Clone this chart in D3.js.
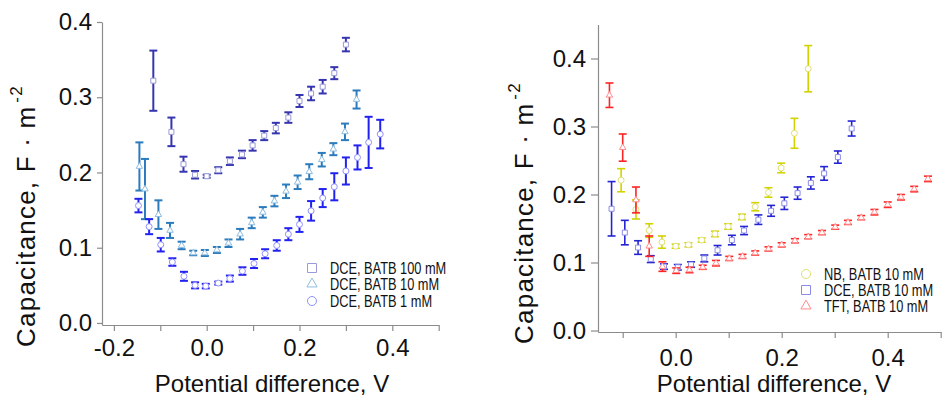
<!DOCTYPE html>
<html>
<head>
<meta charset="utf-8">
<script src="https://cdn.jsdelivr.net/npm/d3@7"></script>
<style>
  body { margin: 0; background: #fff; }
  text { font-family: Arial, "Liberation Sans", sans-serif; fill: #111; }
</style>
</head>
<body>
<script>
// Left panel: DCE with different BATB concentrations
var dce100X = [-0.115, -0.076, -0.050, -0.025, 0.000, 0.025, 0.050, 0.076, 0.099, 0.124, 0.149, 0.176, 0.200, 0.225, 0.250, 0.275, 0.300];
var dce100C = [0.322, 0.254, 0.211, 0.197, 0.195, 0.203, 0.215, 0.224, 0.236, 0.249, 0.259, 0.273, 0.295, 0.305, 0.314, 0.332, 0.370];
var dce100E = [0.040, 0.019, 0.010, 0.005, 0.002, 0.004, 0.005, 0.005, 0.007, 0.006, 0.007, 0.007, 0.008, 0.009, 0.009, 0.008, 0.009];

var dce10X = [-0.145, -0.133, -0.104, -0.079, -0.054, -0.029, -0.004, 0.022, 0.047, 0.072, 0.097, 0.121, 0.146, 0.171, 0.196, 0.221, 0.248, 0.273, 0.298, 0.323];
var dce10C = [0.208, 0.178, 0.144, 0.123, 0.103, 0.093, 0.093, 0.097, 0.106, 0.118, 0.133, 0.147, 0.162, 0.175, 0.187, 0.201, 0.217, 0.231, 0.254, 0.297];
var dce10E = [0.032, 0.040, 0.019, 0.010, 0.005, 0.003, 0.004, 0.004, 0.005, 0.007, 0.007, 0.007, 0.007, 0.009, 0.009, 0.010, 0.009, 0.008, 0.011, 0.012];

var dce1X = [-0.147, -0.124, -0.099, -0.074, -0.049, -0.025, -0.002, 0.025, 0.050, 0.077, 0.102, 0.126, 0.151, 0.176, 0.200, 0.225, 0.250, 0.275, 0.300, 0.325, 0.349, 0.374];
var dce1C = [0.156, 0.128, 0.104, 0.081, 0.062, 0.050, 0.049, 0.053, 0.059, 0.069, 0.079, 0.092, 0.103, 0.118, 0.131, 0.149, 0.166, 0.181, 0.202, 0.220, 0.240, 0.251];
var dce1E = [0.009, 0.010, 0.009, 0.005, 0.006, 0.004, 0.003, 0.002, 0.004, 0.005, 0.006, 0.006, 0.007, 0.008, 0.010, 0.013, 0.012, 0.018, 0.018, 0.016, 0.034, 0.019];

// Right panel: different solvents, BATB 10 mM
var nbX = [-0.103, -0.075, -0.050, -0.026, 0.000, 0.024, 0.049, 0.074, 0.099, 0.125, 0.150, 0.175, 0.199, 0.224, 0.250];
var nbC = [0.221, 0.178, 0.147, 0.130, 0.124, 0.126, 0.133, 0.142, 0.153, 0.167, 0.182, 0.203, 0.239, 0.290, 0.385];
var nbE = [0.017, 0.014, 0.010, 0.009, 0.003, 0.003, 0.003, 0.004, 0.004, 0.004, 0.006, 0.007, 0.007, 0.022, 0.034];

var dceX = [-0.121, -0.096, -0.071, -0.047, -0.022, 0.004, 0.029, 0.054, 0.079, 0.106, 0.129, 0.156, 0.180, 0.205, 0.230, 0.255, 0.280, 0.306, 0.332];
var dceC = [0.179, 0.144, 0.122, 0.105, 0.094, 0.093, 0.097, 0.106, 0.118, 0.133, 0.147, 0.163, 0.176, 0.187, 0.202, 0.217, 0.231, 0.255, 0.297];
var dceE = [0.040, 0.018, 0.010, 0.005, 0.004, 0.004, 0.004, 0.005, 0.007, 0.007, 0.006, 0.007, 0.008, 0.009, 0.009, 0.009, 0.010, 0.009, 0.011];

var tftX = [-0.125, -0.100, -0.075, -0.050, -0.025, 0.001, 0.026, 0.051, 0.076, 0.101, 0.126, 0.150, 0.175, 0.200, 0.225, 0.250, 0.276, 0.301, 0.325, 0.350, 0.375, 0.400, 0.425, 0.450, 0.476];
var tftC = [0.346, 0.269, 0.192, 0.124, 0.094, 0.088, 0.089, 0.093, 0.099, 0.106, 0.109, 0.114, 0.120, 0.126, 0.132, 0.138, 0.144, 0.152, 0.159, 0.166, 0.174, 0.185, 0.196, 0.208, 0.223];
var tftE = [0.018, 0.020, 0.019, 0.015, 0.007, 0.004, 0.004, 0.003, 0.004, 0.003, 0.003, 0.003, 0.003, 0.003, 0.003, 0.003, 0.003, 0.003, 0.003, 0.003, 0.004, 0.004, 0.004, 0.004, 0.004];

var yTicks = [0, 0.1, 0.2, 0.3, 0.4];
var leftXTicks = [-0.2, -0.1, 0, 0.1, 0.2, 0.3, 0.4, 0.5];
var leftXLabels = [-0.2, 0, 0.2, 0.4];
var rightXTicks = [-0.1, 0, 0.1, 0.2, 0.3, 0.4, 0.5];
var rightXLabels = [0, 0.2, 0.4];

var leftNames = ["DCE, BATB 100 mM", "DCE, BATB 10 mM", "DCE, BATB 1 mM"];
var rightNames = ["NB, BATB 10 mM", "DCE, BATB 10 mM", "TFT, BATB 10 mM"];

var width = 945, height = 397;

var svg = d3.select("body").append("svg")
    .attr("width", width)
    .attr("height", height);

function zip(xs, cs, es) {
    return xs.map(function(x, i) { return {x: x, c: cs[i], e: es[i]}; });
}

var leftSeries = [
    {name: leftNames[0], data: zip(dce100X, dce100C, dce100E), shape: d3.symbolSquare, bar: "#3535b0", mark: "#9a9ad8"},
    {name: leftNames[1], data: zip(dce10X, dce10C, dce10E), shape: d3.symbolTriangle, bar: "#2b7bbd", mark: "#8fbde0"},
    {name: leftNames[2], data: zip(dce1X, dce1C, dce1E), shape: d3.symbolCircle, bar: "#2222f0", mark: "#9090ff"}
];
var rightSeries = [
    {name: rightNames[0], data: zip(nbX, nbC, nbE), shape: d3.symbolCircle, bar: "#d2d200", mark: "#e0e070"},
    {name: rightNames[1], data: zip(dceX, dceC, dceE), shape: d3.symbolSquare, bar: "#2424d4", mark: "#8c8ce8"},
    {name: rightNames[2], data: zip(tftX, tftC, tftE), shape: d3.symbolTriangle, bar: "#ff2424", mark: "#ff8c8c"}
];

function symSize(shape, legend) {
    if (shape === d3.symbolSquare) return legend ? 81 : 25;
    if (shape === d3.symbolCircle) return legend ? 64 : 28;
    return legend ? 45 : 18;
}

var fmt = d3.format(".1f");
function label(d) { return fmt(d).replace("\u2212", "-"); }

function drawPanel(cfg) {
    var x = d3.scaleLinear().domain(cfg.xDomain).range(cfg.xRange);
    var y = d3.scaleLinear().domain(cfg.yDomain).range(cfg.yRange);
    var g = svg.append("g");

    var yAxis = d3.axisLeft(y)
        .tickValues(yTicks)
        .tickSize(cfg.yTickSize)
        .tickSizeOuter(0)
        .tickPadding(5)
        .tickFormat(label);
    var xAxis = d3.axisBottom(x)
        .tickValues(cfg.xTicks)
        .tickSize(6)
        .tickSizeOuter(0)
        .tickPadding(cfg.xPad)
        .tickFormat(function(d) {
            return cfg.xLabels.some(function(v) { return Math.abs(v - d) < 1e-9; }) ? label(d) : "";
        });

    var ya = g.append("g")
        .attr("transform", "translate(" + cfg.xRange[0] + ",0)")
        .call(yAxis);
    var xa = g.append("g")
        .attr("transform", "translate(0," + cfg.yRange[0] + ")")
        .call(xAxis);
    [ya, xa].forEach(function(a) {
        a.select(".domain").attr("stroke", "#8c8c8c").attr("stroke-width", 1.2);
        a.selectAll(".tick line").attr("stroke", "#8c8c8c").attr("stroke-width", 1.2);
        a.selectAll(".tick text")
            .attr("fill", "#111")
            .style("font-family", "Arial, 'Liberation Sans', sans-serif")
            .style("font-size", "24px");
    });

    // axis titles
    g.append("text")
        .attr("x", cfg.xTitleX)
        .attr("y", 392)
        .attr("text-anchor", "middle")
        .style("font-size", "24px")
        .text("Potential difference, V");

    var yt = g.append("text")
        .attr("transform", "translate(" + cfg.yTitleX + "," + cfg.yTitleY + ") rotate(-90)")
        .attr("text-anchor", "middle")
        .style("font-size", "26px")
        .style("letter-spacing", "1.2px");
    yt.append("tspan").text("Capacitance, F \u00b7 m");
    yt.append("tspan").attr("dx", 3).attr("dy", -13).style("font-size", "17px").text("-2");

    // error bars and markers
    cfg.series.forEach(function(s) {
        var sg = g.append("g");
        var pts = sg.selectAll(".pt")
            .data(s.data)
            .enter().append("g")
            .attr("class", "pt");
        pts.append("line")
            .attr("x1", function(d) { return x(d.x); })
            .attr("x2", function(d) { return x(d.x); })
            .attr("y1", function(d) { return y(d.c - d.e); })
            .attr("y2", function(d) { return y(d.c + d.e); })
            .attr("stroke", s.bar)
            .attr("stroke-width", cfg.barWidth);
        [-1, 1].forEach(function(sign) {
            pts.append("line")
                .attr("x1", function(d) { return x(d.x) - 4; })
                .attr("x2", function(d) { return x(d.x) + 4; })
                .attr("y1", function(d) { return y(d.c + sign * d.e); })
                .attr("y2", function(d) { return y(d.c + sign * d.e); })
                .attr("stroke", s.bar)
                .attr("stroke-width", cfg.barWidth);
        });
        pts.append("path")
            .attr("d", d3.symbol().type(s.shape).size(symSize(s.shape, false)))
            .attr("transform", function(d) { return "translate(" + x(d.x) + "," + y(d.c) + ")"; })
            .attr("fill", "#fff")
            .attr("stroke", s.mark)
            .attr("stroke-width", 1);
    });

    // legend
    var lg = g.append("g");
    cfg.series.forEach(function(s, i) {
        var ly = cfg.legendY[i];
        lg.append("path")
            .attr("d", d3.symbol().type(s.shape).size(symSize(s.shape, true)))
            .attr("transform", "translate(" + cfg.legendX + "," + ly + ")")
            .attr("fill", "none")
            .attr("stroke", s.mark)
            .attr("stroke-width", 1);
        lg.append("text")
            .attr("transform", "translate(" + (cfg.legendX + 18) + "," + ly + ") scale(0.8,1)")
            .attr("dy", "0.36em")
            .style("font-size", "16px")
            .text(s.name);
    });
}

drawPanel({
    xDomain: [-0.2256, 0.5], xRange: [102, 438.7],
    yDomain: [-0.0027, 0.4], yRange: [325, 22],
    xTicks: leftXTicks, xLabels: leftXLabels, xPad: 8, yTickSize: 5,
    xTitleX: 272, yTitleX: 35, yTitleY: 216,
    barWidth: 2, series: leftSeries,
    legendX: 312, legendY: [268, 284, 301]
});

drawPanel({
    xDomain: [-0.1466, 0.5], xRange: [598, 940.7],
    yDomain: [-0.0022, 0.45], yRange: [332, 24.5],
    xTicks: rightXTicks, xLabels: rightXLabels, xPad: 11, yTickSize: 7,
    xTitleX: 774, yTitleX: 533, yTitleY: 213,
    barWidth: 1.6, series: rightSeries,
    legendX: 806, legendY: [274, 290, 306]
});
</script>
</body>
</html>
